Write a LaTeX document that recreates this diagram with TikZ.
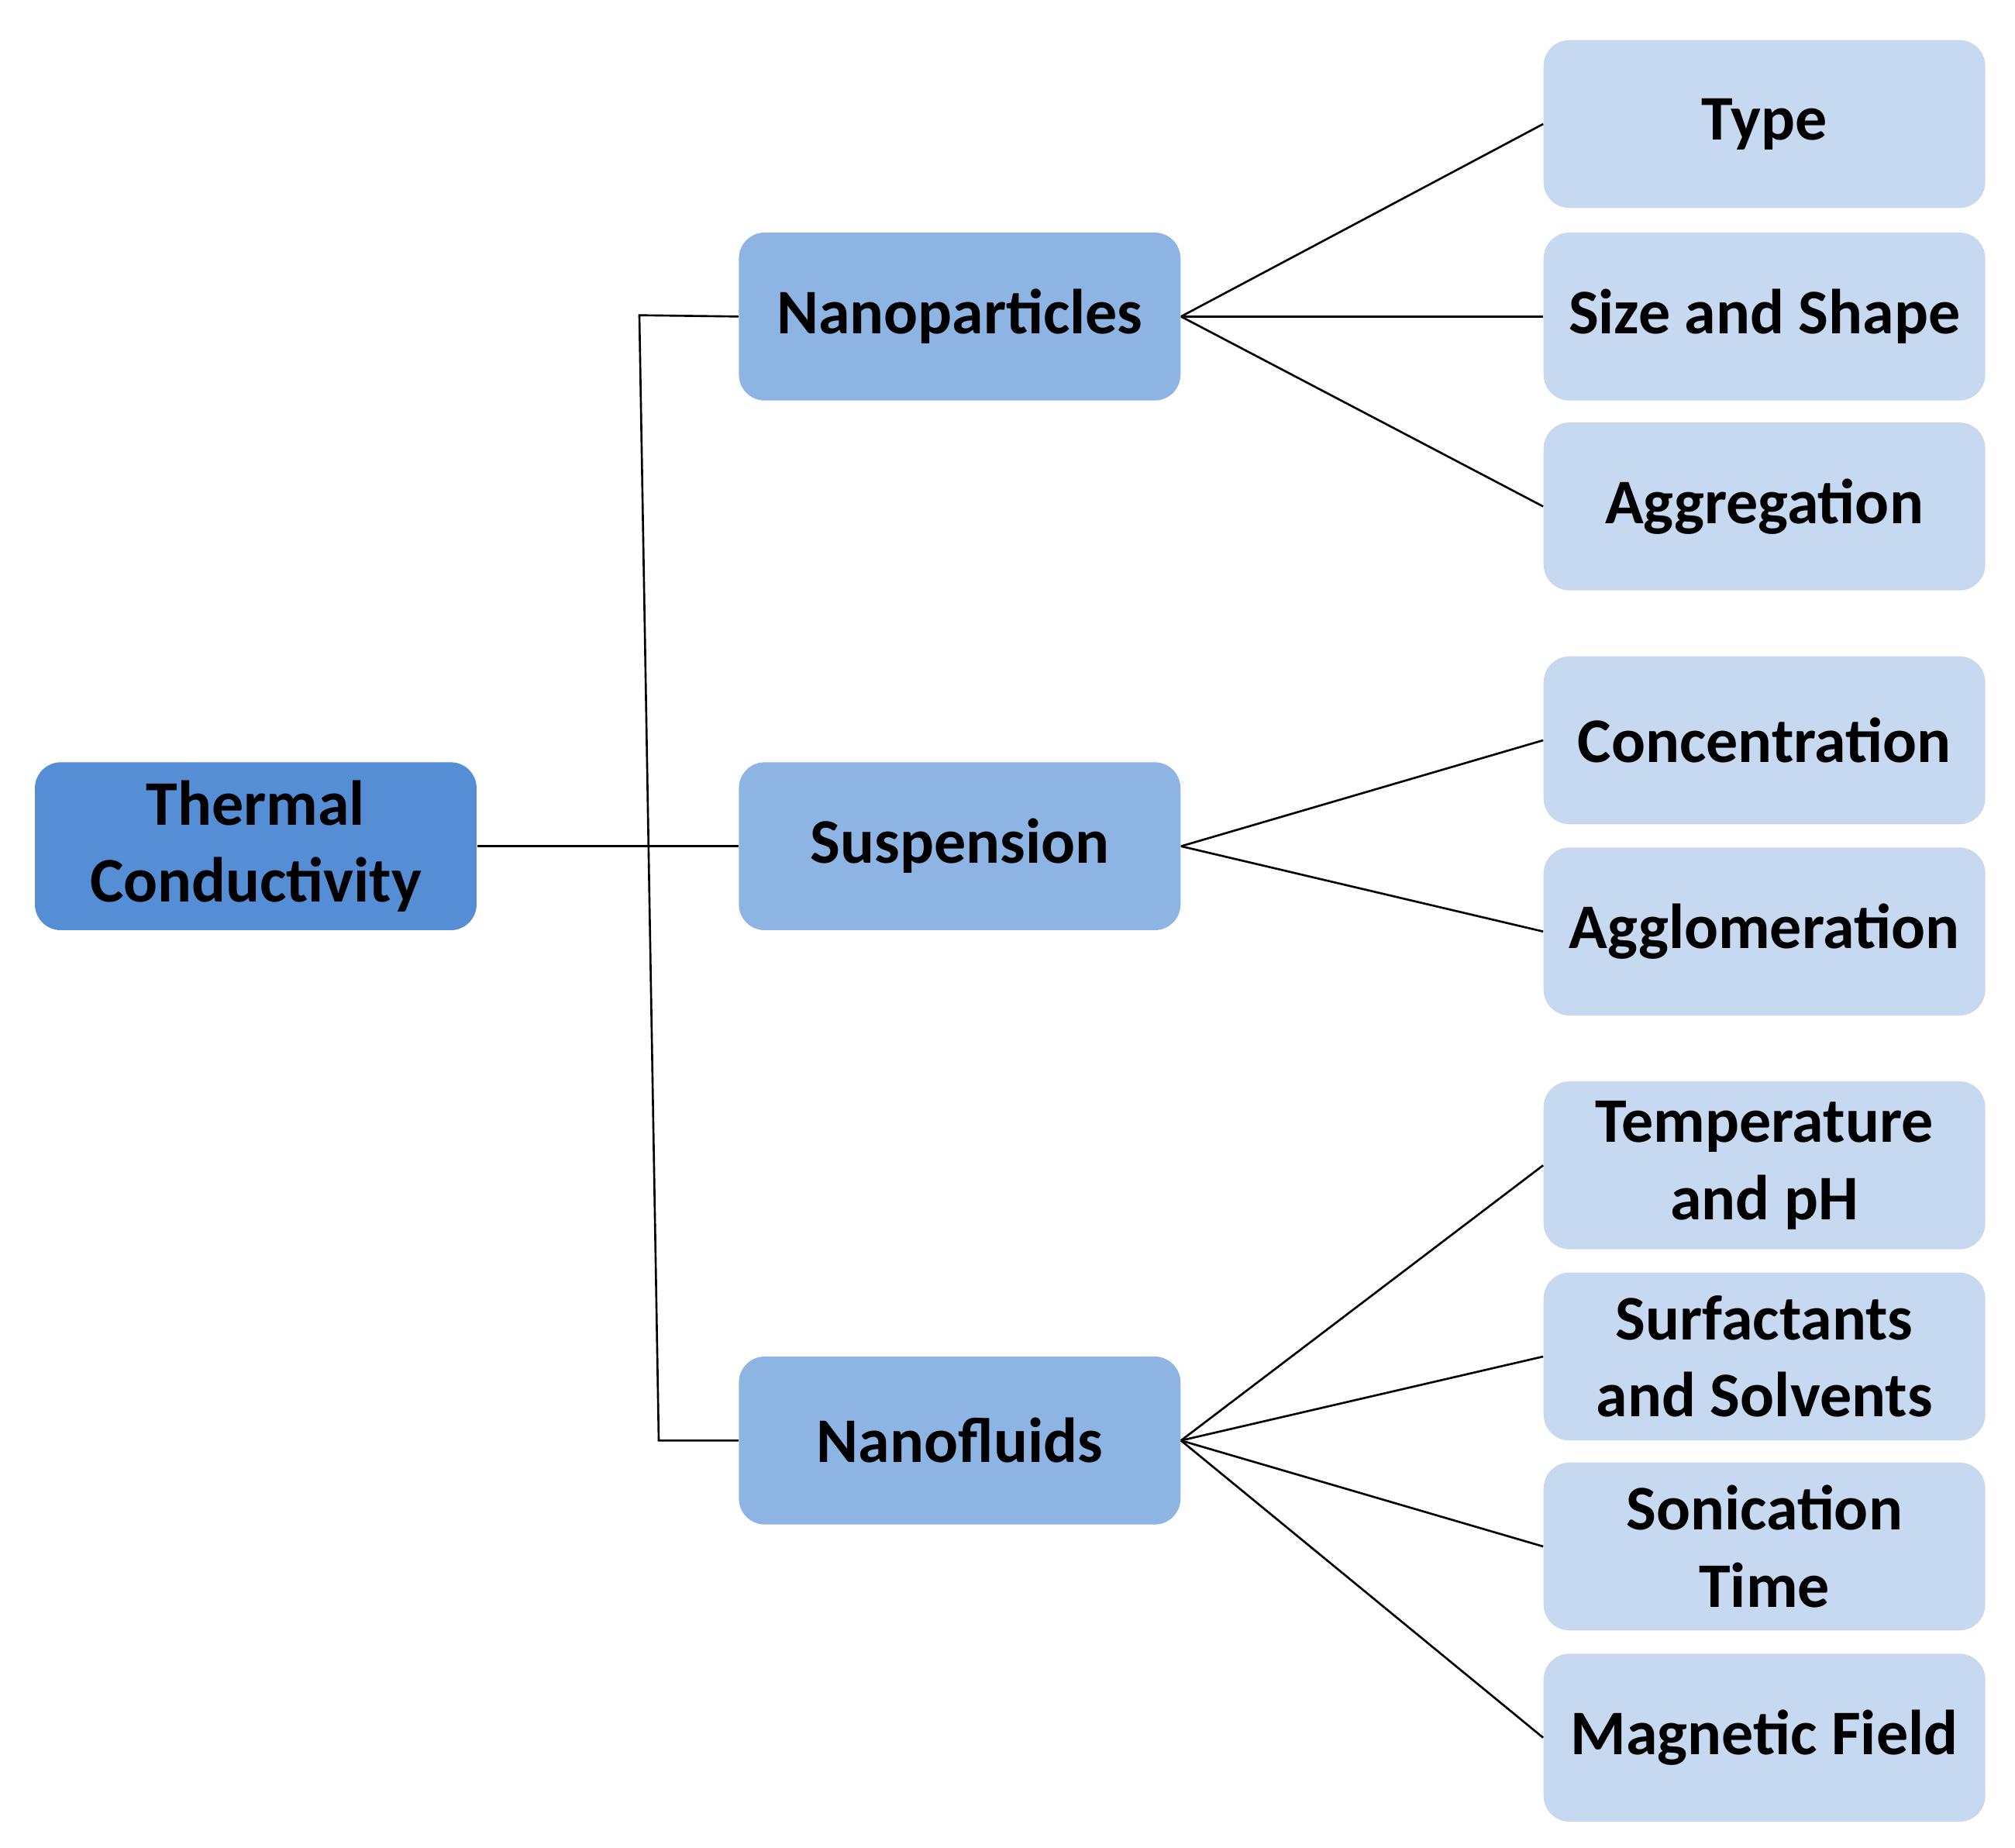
\documentclass[tikz,border=0pt]{standalone}
\usepackage{fontspec}
\setmainfont{Carlito}
\begin{document}
\begin{tikzpicture}[x=0.02cm,y=-0.02cm,
  box/.style={rounded corners=0.4cm,draw=none,minimum width=6.84cm,minimum height=2.6cm,align=center,font=\fontsize{28}{34}\selectfont\bfseries,text=black},
  l1/.style={box,fill=c1},
  l2/.style={box,fill=c2},
  l3/.style={box,fill=c3},
  ln/.style={draw=black,line width=0.9pt}]
\definecolor{c1}{HTML}{558ED5}
\definecolor{c2}{HTML}{8EB4E3}
\definecolor{c3}{HTML}{C6D9F1}
\useasboundingbox (0,0) rectangle (1560,1430);
\node[l1] (tc) at (198,655) {Thermal\\Conductivity};
\node[l2] (np) at (743,245) {Nanoparticles};
\node[l2] (su) at (743,655) {Suspension};
\node[l2] (nf) at (743,1115) {Nanofluids};
\node[l3] (t1) at (1366,96) {Type};
\node[l3] (t2) at (1366,245) {Size and Shape};
\node[l3] (t3) at (1366,392) {Aggregation};
\node[l3] (t4) at (1366,573) {Concentration};
\node[l3] (t5) at (1366,721) {Agglomeration};
\node[l3] (t6) at (1366,902) {Temperature\\and pH};
\node[l3] (t7) at (1366,1050) {Surfactants\\and Solvents};
\node[l3] (t8) at (1366,1197) {Sonication\\Time};
\node[l3] (t9) at (1366,1345) {Magnetic Field};
\coordinate (va) at (495,244);
\coordinate (vb) at (510,1115);
\draw[ln] (np.west) -- (va) -- (vb) -- (nf.west);
\draw[ln] (tc.east) -- (su.west);
\foreach \t in {t1,t2,t3} \draw[ln] (np.east) -- (\t.west);
\foreach \t in {t4,t5} \draw[ln] (su.east) -- (\t.west);
\foreach \t in {t6,t7,t8,t9} \draw[ln] (nf.east) -- (\t.west);
\end{tikzpicture}
\end{document}
